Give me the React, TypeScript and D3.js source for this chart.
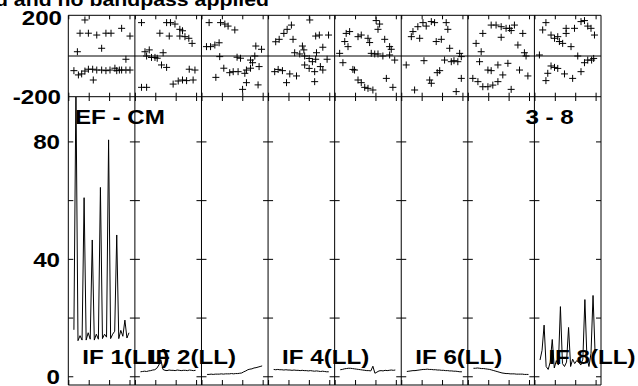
import React from "react";
import * as d3 from "d3";

// ---------- data ----------
const TITLE = "d and no bandpass applied";
const BASELINE_LABEL = "EF - CM";
const CHANNEL_LABEL = "3 - 8";
const IF_NAMES = ["IF 1(LL)", "IF 2(LL)", "IF 3(LL)", "IF 4(LL)", "IF 5(LL)", "IF 6(LL)", "IF 7(LL)", "IF 8(LL)"];
const LABELLED_IFS = [0, 1, 3, 5, 7];

const PHASE_LABELS = [200, -200];
const AMP_TICKS = [0, 20, 40, 60, 80];
const AMP_LABELS = [0, 40, 80];
const TIME_TICKS = [0, 1, 2, 3];

// hours within each IF panel
const TIMES = [0.25, 0.35, 0.45, 0.55, 0.65, 0.75, 0.85, 0.95, 1.05, 1.15, 1.25, 1.35, 1.45, 1.55,
  1.65, 1.75, 1.85, 1.95, 2.05, 2.15, 2.25, 2.35, 2.45, 2.55, 2.65, 2.75, 2.85, 2.95];

// amplitudes per IF
const AMP_IF1 = [16, 98, 12.3, 14, 12.5, 61, 12.5, 15, 12.8, 46.6, 12.5, 14.5, 12.8, 64.5, 13, 14.5, 13.5, 80.7, 13, 14.5, 15.5, 48.3, 13, 15.8, 13.8, 19.3, 13.2, 15];
const AMP_IF2 = [1.7, 1.8, 1.9, 1.8, 2.0, 2.1, 2.3, 2.4, 2.9, 4.0, 5.8, 2.5, 2.2, 2.1, 2.3, 2.2, 2.2, 2.1, 2.3, 2.2, 2.1, 2.2, 2.2, 2.1, 2.3, 2.2, 2.1, 2.2];
const AMP_IF3 = [0.8, 0.8, 0.9, 0.8, 0.9, 0.9, 0.9, 1.0, 0.9, 1.0, 1.0, 1.0, 1.1, 1.0, 1.1, 1.1, 1.2, 1.3, 1.7, 2.0, 2.4, 2.6, 2.7, 3.0, 3.1, 3.3, 3.5, 3.7];
const AMP_IF4 = [2.5, 2.4, 2.5, 2.4, 2.4, 2.3, 2.4, 2.3, 2.3, 2.2, 2.3, 2.2, 2.2, 2.1, 2.2, 2.1, 2.1, 2.0, 2.1, 2.0, 1.9, 2.0, 1.9, 1.8, 1.9, 1.8, 1.7, 1.7];
const AMP_IF5 = [2.4, 2.5, 2.7, 2.8, 2.9, 2.9, 2.8, 2.7, 2.6, 2.5, 2.4, 2.3, 2.2, 2.1, 2.1, 2.0, 3.6, 1.2, 1.6, 2.0, 2.1, 2.0, 2.2, 2.1, 2.2, 2.3, 2.2, 2.3];
const AMP_IF6 = [1.8, 1.9, 2.0, 2.1, 2.1, 2.2, 2.3, 2.4, 2.5, 2.5, 2.6, 2.5, 2.5, 2.4, 2.4, 2.3, 2.3, 2.2, 2.2, 2.1, 2.1, 2.0, 2.0, 1.9, 1.9, 1.8, 1.7, 1.7];
const AMP_IF7 = [2.9, 2.9, 3.0, 2.9, 2.8, 2.8, 2.7, 2.6, 2.5, 2.3, 2.1, 1.9, 1.7, 1.5, 1.3, 1.2, 1.1, 1.1, 1.0, 1.0, 1.0, 0.9, 0.9, 0.9, 0.9, 0.8, 0.8, 0.8];
const AMP_IF8 = [5.7, 9, 17.6, 3.5, 2.5, 5, 12.7, 3, 5.5, 4, 23.9, 4.5, 3.5, 5, 16.8, 3.5, 6, 4.5, 5.5, 5, 4, 6, 26.3, 6.5, 3.5, 8, 27.7, 8];

// phases per IF: [hours, degrees]
const PHASE_IF1 = [[0.79, 177], [0.55, 112], [0.96, 112], [1.37, 103], [1.82, 112], [2.07, 112], [2.59, 136], [3.0, 98], [0.42, 21], [1.61, 38],
  [0.25, -72], [0.47, -93], [0.63, -88], [0.79, -74], [0.96, -65], [1.17, -65], [1.37, -69], [1.61, -69], [1.82, -72], [2.02, -69],
  [2.26, -60], [2.35, -72], [2.48, -69], [2.59, -69], [2.8, -69], [3.0, -69], [2.8, -16], [1.2, -118]];
const PHASE_IF2 = [[0.3, 164], [1.53, 164], [1.72, 164], [1.94, 157], [2.18, 131], [2.31, 124], [1.2, 112], [1.66, 98], [2.18, 98], [2.43, 95],
  [2.62, 87], [2.78, 62], [0.47, 21], [0.68, 30], [0.55, 0], [0.79, -7], [0.96, -7], [1.07, -11], [1.36, 16], [1.28, -44],
  [1.53, -56], [2.64, -65], [2.92, -69], [1.85, -138], [2.1, -123], [2.31, -118], [2.51, -121], [2.83, -118], [0.3, -154], [0.55, -154]];
const PHASE_IF3 = [[0.35, 164], [0.91, 164], [1.12, 157], [1.28, 147], [1.61, 128], [0.22, 46], [0.42, 46], [0.63, 54], [0.84, 65], [2.64, 49],
  [2.92, 33], [0.87, -3], [1.72, -6], [1.89, -11], [2.38, -20], [2.48, -33], [2.59, 0], [1.07, -60], [1.53, -77], [1.77, -77],
  [2.18, -69], [2.38, -60], [0.68, -105], [1.36, -82], [2.1, -85], [2.8, -52], [2.18, -131], [2.75, -142], [1.99, -164]];
const PHASE_IF4 = [[0.35, 70], [0.52, 82], [0.75, 111], [0.91, 131], [1.12, 152], [1.2, 82], [1.66, 49], [1.73, 30], [2.02, 177], [2.31, 98],
  [1.28, 16], [1.53, 10], [1.77, 0], [1.99, -12], [2.15, -28], [2.31, -16], [2.35, 16], [1.77, -44], [1.99, -61], [2.26, -77],
  [0.3, -77], [0.47, -66], [0.68, -72], [0.88, -131], [1.04, -88], [1.37, -98], [2.26, -126], [2.49, 103], [2.94, 103], [2.66, 43],
  [2.54, -52], [2.66, -69], [2.87, -16]];
const PHASE_IF5 = [[2.01, 174], [2.18, 157], [2.1, 131], [0.71, 120], [0.54, 111], [0.47, 71], [0.63, 46], [1.12, 95], [1.28, 103], [1.61, 87],
  [1.69, 66], [2.43, 82], [2.67, 46], [2.75, 33], [0.22, 13], [1.77, 13], [1.94, 10], [2.1, 10], [2.34, 0], [2.67, 5],
  [2.92, -20], [0.38, -33], [0.87, -66], [0.95, -69], [1.12, -118], [1.28, -131], [1.45, -154], [1.61, -159], [1.85, -167], [2.51, -110], [2.83, -154]];
const PHASE_IF6 = [[0.55, 120], [0.47, 95], [0.79, 144], [0.88, 87], [1.04, 164], [1.2, 147], [1.45, 169], [1.61, 164], [2.18, 164], [2.26, 131],
  [1.69, 71], [1.94, 82], [2.35, 38], [2.84, 13], [2.92, -3], [0.22, -44], [1.09, -23], [2.1, -20], [2.43, -28], [2.56, -23],
  [2.75, -28], [1.86, -72], [1.74, -82], [1.37, -118], [1.45, -134], [0.63, -167], [2.92, -110], [2.67, -175]];
const PHASE_IF7 = [[0.38, 62], [0.63, 21], [0.71, 111], [1.12, 152], [1.36, 152], [1.61, 144], [1.85, 136], [2.02, 136], [2.26, 152], [2.1, 125],
  [1.61, 92], [2.67, 111], [2.43, 54], [2.75, 16], [2.83, 0], [0.55, -28], [0.96, -69], [1.12, -72], [1.45, -44], [1.94, -36],
  [2.51, -69], [2.92, -98], [0.22, -110], [0.47, -126], [0.71, -151], [0.96, -151], [1.2, -143], [1.45, -126], [1.69, -93], [2.1, -164]];
const PHASE_IF8 = [[0.54, 164], [0.38, 128], [0.79, 103], [0.96, 87], [1.12, 95], [1.2, 71], [1.36, 62], [1.53, 136], [1.53, 111], [1.77, 46],
  [1.94, 136], [2.26, 169], [2.43, 174], [2.59, 147], [2.75, 136], [2.92, 103], [0.22, 5], [2.1, 0], [2.43, -33], [2.59, -20],
  [2.78, -20], [2.88, -12], [0.79, -49], [0.96, -56], [1.12, -61], [0.63, -85], [0.54, -121], [1.45, -88], [1.85, -110], [2.26, -77]];

const AMPS = [AMP_IF1, AMP_IF2, AMP_IF3, AMP_IF4, AMP_IF5, AMP_IF6, AMP_IF7, AMP_IF8];
const PHASES = [PHASE_IF1, PHASE_IF2, PHASE_IF3, PHASE_IF4, PHASE_IF5, PHASE_IF6, PHASE_IF7, PHASE_IF8];

// ---------- layout ----------
const W = 638, H = 386;
const LEFT = 68.3, RIGHT = 601;
const TOP1 = 15.3, BOT1 = 96.7;
const TOP2 = 97, BOT2 = 385;
const FONT = "'Liberation Sans', Arial, Helvetica, sans-serif";
const SX = 1.15;

const colScale = d3.scaleLinear().domain([0, 8]).range([LEFT, RIGHT]);
const timeScale = (k: number) => d3.scaleLinear().domain([-0.025, 3.24]).range([colScale(k), colScale(k + 1)]);
const phaseY = d3.scaleLinear().domain([-200, 200]).range([BOT1, TOP1]);
const ampY = d3.scaleLinear().domain([-2.8, 95.3]).range([BOT2, TOP2]);

function Label({ x, y, text, size = 21, anchor = "start" }: { x: number; y: number; text: string; size?: number; anchor?: string }) {
  return (
    <g transform={`translate(${x},${y}) scale(${SX},1)`}>
      <text x={0} y={0} fontFamily={FONT} fontWeight="bold" fontSize={size} textAnchor={anchor} fill="#000">{text}</text>
    </g>
  );
}

export default function App() {
  const cols = d3.range(8);
  return (
    <div style={{ position: "fixed", left: 0, top: 0, width: W, height: H, background: "#fff" }}>
      <svg width={W} height={H} style={{ display: "block" }}>
        <defs>
          {cols.map((k) => (
            <clipPath id={`clip${k}`} key={k}>
              <rect x={colScale(k)} y={TOP2} width={colScale(k + 1) - colScale(k)} height={BOT2 - TOP2} />
            </clipPath>
          ))}
        </defs>
        <rect x={0} y={0} width={W} height={H} fill="#fff" />

        {/* title */}
        <Label x={269} y={6} text={TITLE} size={18.5} anchor="end" />

        {/* frames */}
        <g stroke="#000" strokeWidth={1} fill="none">
          <line x1={LEFT} x2={RIGHT} y1={TOP1} y2={TOP1} />
          <line x1={LEFT} x2={RIGHT} y1={BOT1} y2={BOT1} />
          <line x1={LEFT} x2={RIGHT} y1={phaseY(0)} y2={phaseY(0)} />
          <line x1={LEFT} x2={RIGHT} y1={BOT2} y2={BOT2} />
          {d3.range(9).map((k) => (
            <line key={k} x1={colScale(k)} x2={colScale(k)} y1={TOP1} y2={BOT2} />
          ))}
          {cols.map((k) => {
            const xs = timeScale(k);
            return (
              <g key={k}>
                {TIME_TICKS.map((t) => (
                  <g key={t}>
                    <line x1={xs(t)} x2={xs(t)} y1={TOP1} y2={TOP1 + 4} />
                    <line x1={xs(t)} x2={xs(t)} y1={BOT1} y2={BOT1 - 4} />
                    <line x1={xs(t)} x2={xs(t)} y1={TOP2} y2={TOP2 + 4} />
                    <line x1={xs(t)} x2={xs(t)} y1={BOT2} y2={BOT2 - 5} />
                  </g>
                ))}
                {AMP_TICKS.map((v) => (
                  <g key={v}>
                    <line x1={colScale(k)} x2={colScale(k) + 5} y1={ampY(v)} y2={ampY(v)} />
                    <line x1={colScale(k + 1)} x2={colScale(k + 1) - 5} y1={ampY(v)} y2={ampY(v)} />
                  </g>
                ))}
              </g>
            );
          })}
        </g>

        {/* phase scatter */}
        <g stroke="#000" strokeWidth={1}>
          {cols.map((k) => {
            const xs = timeScale(k);
            return PHASES[k].map(([t, p], i) => {
              const cx = xs(t), cy = phaseY(p);
              return (
                <g key={`${k}-${i}`}>
                  <line x1={cx - 3.5} x2={cx + 3.5} y1={cy} y2={cy} />
                  <line x1={cx} x2={cx} y1={cy - 3.5} y2={cy + 3.5} />
                </g>
              );
            });
          })}
        </g>

        {/* amplitude lines */}
        {cols.map((k) => {
          const xs = timeScale(k);
          const line = d3.line<number>().x((_, i) => xs(TIMES[i])).y((d) => ampY(d));
          return <path key={k} d={line(AMPS[k]) || ""} fill="none" stroke="#000" strokeWidth={1} clipPath={`url(#clip${k})`} />;
        })}

        {/* axis labels */}
        <Label x={62} y={25} text={String(PHASE_LABELS[0])} anchor="end" />
        <Label x={61} y={103.5} text={String(PHASE_LABELS[1])} anchor="end" />
        {AMP_LABELS.map((v) => (
          <Label key={v} x={60} y={ampY(v) + 7.5} text={String(v)} anchor="end" />
        ))}

        <Label x={75} y={124} text={BASELINE_LABEL} />
        <Label x={525.5} y={123.5} text={CHANNEL_LABEL} />
        {LABELLED_IFS.map((k) => (
          <Label key={k} x={colScale(k) + 14} y={363.5} text={IF_NAMES[k]} />
        ))}
      </svg>
    </div>
  );
}
